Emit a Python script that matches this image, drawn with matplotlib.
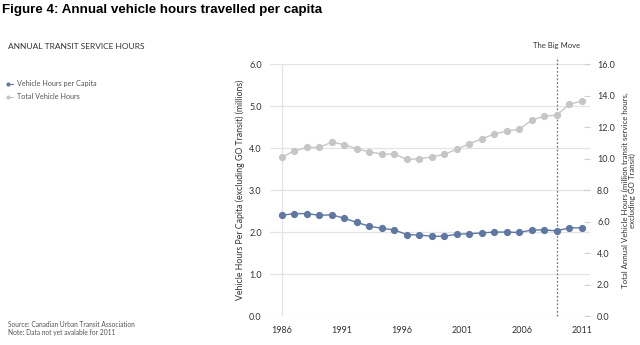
import numpy as np
import matplotlib.pyplot as plt

# Data
years = list(range(1986, 2011))
per_capita = [2.40, 2.44, 2.44, 2.40, 2.41, 2.33, 2.23, 2.14, 2.09, 2.05, 1.94, 1.93, 1.90,
              1.90, 1.95, 1.96, 1.98, 2.00, 2.00, 1.99, 2.05, 2.05, 2.03, 2.10, 2.10]
total_hours = [10.08, 10.50, 10.71, 10.71, 11.05, 10.88, 10.62, 10.43, 10.29, 10.29, 9.95, 9.99,
               10.11, 10.27, 10.60, 10.94, 11.26, 11.56, 11.75, 11.87, 12.44, 12.70, 12.76,
               13.46, 13.65]
xtick_labels = ['1986', '1991', '1996', '2001', '2006', '2011']
left_ticks = [0, 1, 2, 3, 4, 5, 6]
right_ticks = [0, 2, 4, 6, 8, 10, 12, 14, 16]
big_move_idx = 22

blue = '#5f77a3'
grey = '#c6c6c6'
txt = '#333333'
grid_c = '#e4e4e4'

plt.rcParams['font.family'] = ['Lato', 'DejaVu Sans']

fig = plt.figure(figsize=(6.4, 3.45), dpi=100)
ax = fig.add_axes([0.422, 0.084, 0.5, 0.73])
ax2 = ax.twinx()

x = np.arange(len(years))
ax.plot(x, per_capita, color=blue, lw=1, marker='o', ms=4.2, zorder=5)
ax2.plot(x, total_hours, color=grey, lw=1, marker='o', ms=4.2, zorder=5)

ax.set_xlim(-0.94, 24.66)
ax.set_ylim(0, 6)
ax2.set_ylim(0, 16)

ax.set_yticks(left_ticks)
ax.set_yticklabels([f'{v:.1f}' for v in left_ticks])
ax2.set_yticks(right_ticks)
ax2.set_yticklabels([f'{v:.1f}' for v in right_ticks])
ax.set_xticks(np.linspace(0, len(years) - 1, len(xtick_labels)))
ax.set_xticklabels(xtick_labels)

ax.grid(axis='y', color=grid_c, lw=0.9)
ax.axvline(0, color=grid_c, lw=0.9, zorder=1)
for a in (ax, ax2):
    for s in a.spines.values():
        s.set_visible(False)
ax.tick_params(axis='y', length=0, labelsize=6.5, labelcolor=txt, pad=6)
ax.tick_params(axis='x', length=0, labelsize=6.5, labelcolor=txt, pad=7)
ax2.tick_params(axis='y', direction='in', length=4, color='#d0d0d0', labelsize=6.5,
                labelcolor=txt, pad=5)

# The Big Move marker
ax.plot([big_move_idx, big_move_idx], [0, 6.17], color='#777777', lw=0.9, ls=(0, (1.5, 1.5)),
        clip_on=False, zorder=4)
ax.text(big_move_idx, 6.45, 'The Big Move', ha='center', va='center', fontsize=5.5, color=txt)

ax.set_ylabel('Vehicle Hours Per Capita (excluding GO Transit) (millions)', fontsize=6.3,
              color=txt, labelpad=3)
ax2.set_ylabel('Total Annual Vehicle Hours (million transit service hours,\nexcluding GO Transit)',
               fontsize=5.7, color=txt, labelpad=5, linespacing=1.05)

fig.text(0.003, 0.97, 'Figure 4: Annual vehicle hours travelled per capita', fontsize=9.6,
         fontweight='bold', family='Liberation Sans', ha='left', va='center')
fig.text(0.013, 0.865, 'ANNUAL TRANSIT SERVICE HOURS', fontsize=6, color=txt, ha='left',
         va='center')

# legend
fig.lines.append(plt.Line2D([0.013, 0.021], [0.757, 0.757], color=blue, lw=0.8, marker='o',
                            ms=2, markevery=[0], transform=fig.transFigure))
fig.lines.append(plt.Line2D([0.013, 0.021], [0.72, 0.72], color=grey, lw=0.8, marker='o',
                            ms=2, markevery=[0], transform=fig.transFigure))
fig.text(0.027, 0.757, 'Vehicle Hours per Capita', fontsize=5.2, color='#555555', va='center')
fig.text(0.027, 0.72, 'Total Vehicle Hours', fontsize=5.2, color='#555555', va='center')

fig.text(0.013, 0.058, 'Source: Canadian Urban Transit Association', fontsize=4.8,
         color='#555555', va='center')
fig.text(0.013, 0.035, 'Note: Data not yet avalable for 2011', fontsize=4.8,
         color='#555555', va='center')

fig.savefig('out.png', dpi=100)
